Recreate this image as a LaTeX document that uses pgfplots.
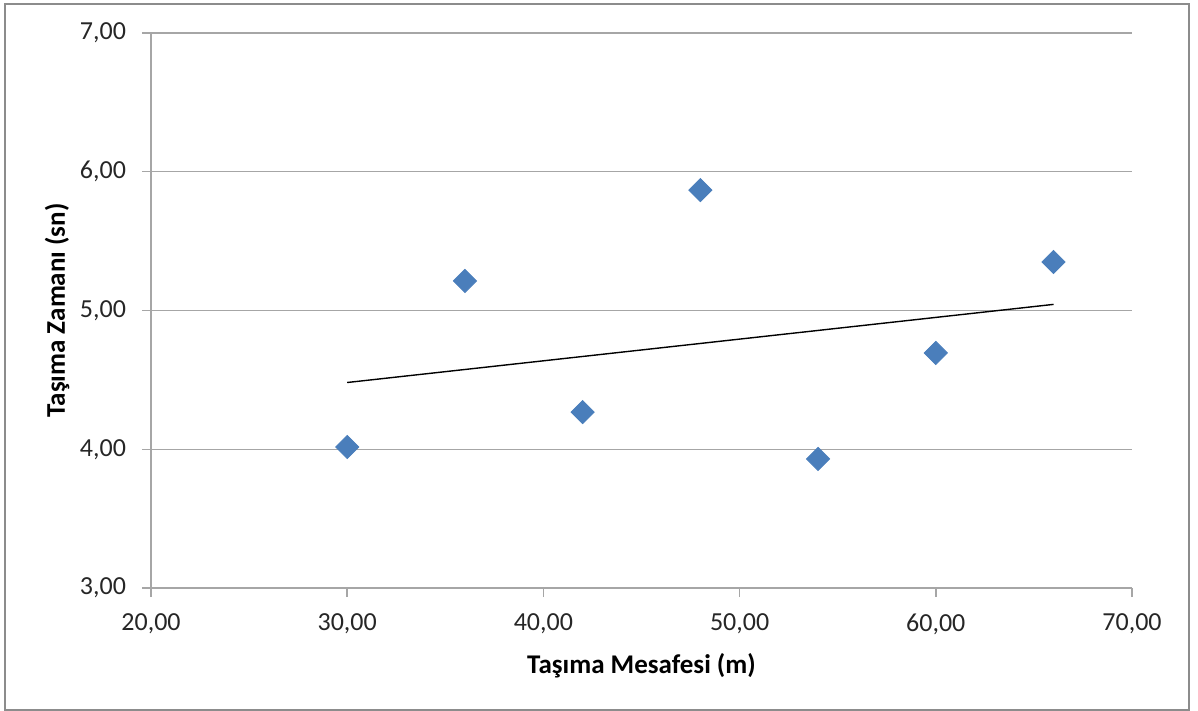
\documentclass[border=0pt]{standalone}
\usepackage{pgfplots}
\pgfplotsset{compat=1.18}
\usepackage{fontspec}
\setmainfont{Carlito}
\definecolor{markblue}{HTML}{4A7EBB}
\definecolor{gridgray}{HTML}{A6A6A6}
\definecolor{bordergray}{HTML}{8C8C8C}
\begin{document}
\begin{tikzpicture}
\begin{axis}[
  scale only axis,
  width=490.5pt, height=277.5pt,
  xmin=20, xmax=70, ymin=3, ymax=7,
  xtick={20,30,...,70}, ytick={3,4,...,7},
  axis x line*=bottom, axis y line*=left,
  axis line style={gridgray, line width=0.7pt, -},
  ymajorgrids, grid style={gridgray, line width=0.7pt},
  tick align=outside, major tick length=4.5pt,
  tick style={gridgray, line width=0.7pt},
  clip=false,
  /pgf/number format/.cd, fixed, fixed zerofill, precision=2, use comma, assume math mode=true,
  /pgfplots/.cd,
  ticklabel style={font=\fontsize{13}{15}\selectfont, text=black!85},
  yticklabel style={xshift=-4.5pt},
  xticklabel style={yshift=-5pt},
  xlabel={Taşıma Mesafesi (m)},
  ylabel={Taşıma Zamanı (sn)},
  label style={font=\bfseries\fontsize{13.5}{16}\selectfont},
  xlabel style={at={(axis description cs:0.5,-0.1532)}, anchor=base},
  ylabel style={at={(axis description cs:-0.0958,0.5)}, anchor=center},
]
\addplot[only marks, mark=square*, mark size=4.1pt,
  mark options={rotate=45, fill=markblue, draw=markblue}]
  coordinates {(30,4.016) (36,5.213) (42,4.268) (48,5.868) (54,3.930) (60,4.694) (66,5.350)};
\addplot[black, line width=0.7pt] coordinates {(30,4.481) (66,5.044)};
\draw[bordergray, line width=1pt]
  ([xshift=-73pt,yshift=-61pt]rel axis cs:0,0) rectangle ([xshift=28.5pt,yshift=14.5pt]rel axis cs:1,1);
\path ([xshift=-75.5pt,yshift=-61.5pt]rel axis cs:0,0) rectangle ([xshift=33pt,yshift=16.5pt]rel axis cs:1,1);
\end{axis}
\end{tikzpicture}
\end{document}
